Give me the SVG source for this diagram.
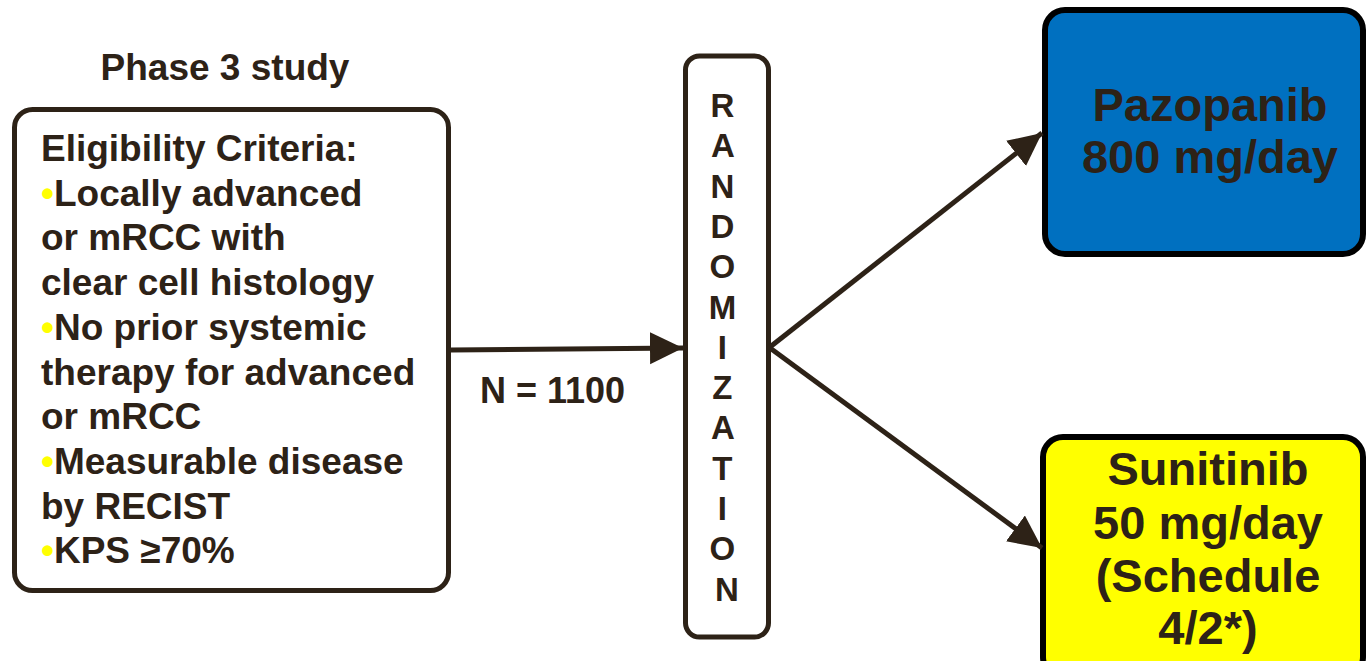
<svg xmlns="http://www.w3.org/2000/svg" width="1366" height="661" viewBox="0 0 1366 661">
<style>
text{font-family:"Liberation Sans",Arial,sans-serif;font-weight:bold;fill:#2D2217}
.box{fill:#fff;stroke:#2D2217;stroke-width:5}
.arm{stroke:#000;stroke-width:6}
.conn{stroke:#2D2217;stroke-width:5;fill:none;marker-end:url(#ah)}
.bul{fill:#FFFF00}
</style>
<defs>
<marker id="ah" markerUnits="userSpaceOnUse" markerWidth="34" markerHeight="34" viewBox="0 0 34 34" refX="33" refY="17" orient="auto">
<path d="M0,1 L33,17 L0,33 Z" fill="#2D2217"/>
</marker>
</defs>
<rect width="1366" height="661" fill="#fff"/>
<g id="title"><text x="225" y="80" font-size="37" text-anchor="middle">Phase 3 study</text></g>
<g id="eligibility">
<rect class="box" x="14.5" y="109.5" width="434" height="481" rx="18"/>
<text x="41" y="161" font-size="37">
<tspan x="41">Eligibility Criteria:</tspan>
<tspan x="41" dy="44.7"><tspan class="bul">•</tspan>Locally advanced</tspan>
<tspan x="41" dy="44.7">or mRCC with</tspan>
<tspan x="41" dy="44.7">clear cell histology</tspan>
<tspan x="41" dy="44.7"><tspan class="bul">•</tspan>No prior systemic</tspan>
<tspan x="41" dy="44.7">therapy for advanced</tspan>
<tspan x="41" dy="44.7">or mRCC</tspan>
<tspan x="41" dy="44.7"><tspan class="bul">•</tspan>Measurable disease</tspan>
<tspan x="41" dy="44.7">by RECIST</tspan>
<tspan x="41" dy="44.7"><tspan class="bul">•</tspan>KPS ≥70%</tspan>
</text>
</g>
<g id="randomization">
<rect class="box" x="685.5" y="56" width="83" height="581" rx="14"/>
<text font-size="33" text-anchor="middle">
<tspan x="727" y="117">R</tspan>
<tspan x="727" y="157.3">A</tspan>
<tspan x="727" y="197.6">N</tspan>
<tspan x="727" y="237.9">D</tspan>
<tspan x="727" y="278.2">O</tspan>
<tspan x="727" y="318.5">M</tspan>
<tspan x="727" y="358.8">I</tspan>
<tspan x="727" y="399.1">Z</tspan>
<tspan x="727" y="439.4">A</tspan>
<tspan x="727" y="479.7">T</tspan>
<tspan x="727" y="520">I</tspan>
<tspan x="727" y="560.3">O</tspan>
<tspan x="727" y="600.6">N</tspan>
</text>
</g>
<g id="pazopanib">
<rect class="arm" x="1045" y="10" width="318" height="244" rx="20" fill="#0070C0"/>
<text font-size="47" text-anchor="middle"><tspan x="1210" y="121">Pazopanib</tspan><tspan x="1210" y="173">800 mg/day</tspan></text>
</g>
<g id="sunitinib">
<rect class="arm" x="1043" y="437" width="320" height="240" rx="20" fill="#FFFF00"/>
<text font-size="47" text-anchor="middle"><tspan x="1208" y="485">Sunitinib</tspan><tspan x="1208" y="539">50 mg/day</tspan><tspan x="1208" y="592">(Schedule</tspan><tspan x="1208" y="644">4/2*)</tspan></text>
</g>
<g id="connectors">
<line class="conn" x1="451" y1="350" x2="683" y2="348"/>
<line class="conn" x1="770" y1="347" x2="1042" y2="133"/>
<line class="conn" x1="770" y1="348" x2="1042" y2="548"/>
<text x="480" y="403" font-size="36">N = 1100</text>
</g>
</svg>
